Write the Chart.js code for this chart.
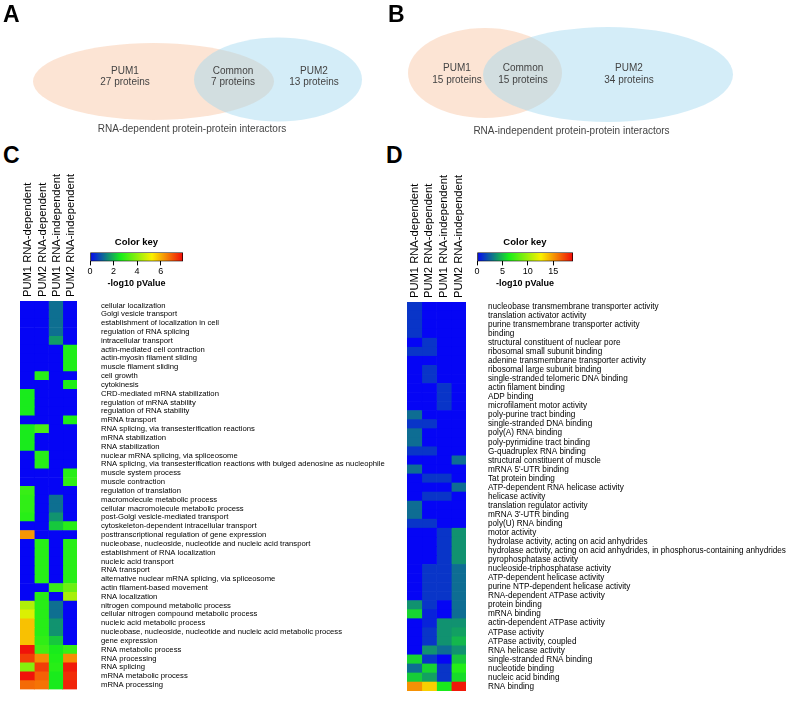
<!DOCTYPE html>
<html>
<head>
<meta charset="utf-8">
<script src="https://cdn.jsdelivr.net/npm/chart.js@4.4.1/dist/chart.umd.min.js"></script>
<style>
  body { margin: 0; background: #fff; }
  #fig { position: relative; width: 789px; height: 718px; overflow: hidden; font-family: "Liberation Sans", Arial, sans-serif; }
  #fig canvas { position: absolute; }
  .letter { position: absolute; font-weight: bold; font-size: 23px; line-height: 23px; color: #000; }
</style>
</head>
<body>
<div id="fig">
  <canvas id="venn-a" width="390" height="140" style="left:0;top:0"></canvas>
  <canvas id="venn-b" width="399" height="140" style="left:390px;top:0"></canvas>
  <canvas id="heat-c" width="395" height="548" style="left:0;top:170px"></canvas>
  <canvas id="heat-d" width="399" height="548" style="left:390px;top:170px"></canvas>
  <canvas id="key-c" width="120" height="58" style="left:80px;top:234px"></canvas>
  <canvas id="key-d" width="125" height="58" style="left:465px;top:234px"></canvas>
  <div class="letter" style="left:3px;top:3px">A</div>
  <div class="letter" style="left:388px;top:3px">B</div>
  <div class="letter" style="left:3px;top:144px">C</div>
  <div class="letter" style="left:386px;top:144px">D</div>
</div>
<script>
// ---- data ----
const venn_regions = ['PUM1', 'Common', 'PUM2'];
const venn_a_counts = [27, 7, 13];
const venn_b_counts = [15, 15, 34];
const venn_a_caption = 'RNA-dependent protein-protein interactors';
const venn_b_caption = 'RNA-independent protein-protein interactors';

const heat_columns = ['PUM1 RNA-dependent', 'PUM2 RNA-dependent', 'PUM1 RNA-independent', 'PUM2 RNA-independent'];

const c_terms = [
  'cellular localization', 'Golgi vesicle transport', 'establishment of localization in cell', 'regulation of RNA splicing',
  'intracellular transport', 'actin-mediated cell contraction', 'actin-myosin filament sliding', 'muscle filament sliding',
  'cell growth', 'cytokinesis', 'CRD-mediated mRNA stabilization', 'regulation of mRNA stability',
  'regulation of RNA stability', 'mRNA transport', 'RNA splicing, via transesterification reactions', 'mRNA stabilization',
  'RNA stabilization', 'nuclear mRNA splicing, via spliceosome',
  'RNA splicing, via transesterification reactions with bulged adenosine as nucleophile', 'muscle system process',
  'muscle contraction', 'regulation of translation', 'macromolecule metabolic process', 'cellular macromolecule metabolic process',
  'post-Golgi vesicle-mediated transport', 'cytoskeleton-dependent intracellular transport',
  'posttranscriptional regulation of gene expression', 'nucleobase, nucleoside, nucleotide and nucleic acid transport',
  'establishment of RNA localization', 'nucleic acid transport', 'RNA transport', 'alternative nuclear mRNA splicing, via spliceosome',
  'actin filament-based movement', 'RNA localization', 'nitrogen compound metabolic process', 'cellular nitrogen compound metabolic process',
  'nucleic acid metabolic process', 'nucleobase, nucleoside, nucleotide and nucleic acid metabolic process', 'gene expression',
  'RNA metabolic process', 'RNA processing', 'RNA splicing', 'mRNA metabolic process', 'mRNA processing'
];
const c_pum1_dep   = [0,0,0,0,0,0,0,0,0,0, 2.6,2.6,2.6,0,2.6,2.6,2.6,0,0,0, 0,3.0,2.9,2.9,2.8,0,6.3,0,0,0, 0,0,0,0,4.4,4.9,5.8,5.8,5.8,7.8, 7.3,3.9,7.8,6.8];
const c_pum2_dep   = [0,0,0,0,0,0,0,0,2.8,0, 0,0,0,0,3.2,0,0,2.8,2.8,0, 0,0,0,0,0,0,0,2.8,2.8,2.8, 2.8,2.8,0,2.8,2.8,2.8,2.8,2.8,2.9,3.1, 6.4,7.3,6.9,6.7];
const c_pum1_indep = [1.2,1.2,1.2,1.2,1.7,0,0,0,0,0, 0,0,0,0,0,0,0,0,0,0, 0,0,1.2,1.2,1.6,2.2,0,0,0,0, 0,0,3.0,0,1.2,1.2,1.6,1.6,2.2,2.6, 2.7,2.8,2.6,2.6];
const c_pum2_indep = [0,0,0,0,0,2.7,2.7,2.7,0,2.7, 0,0,0,2.7,0,0,0,0,0,2.8, 2.9,0,0,0,0,2.8,0,2.8,2.8,2.8, 2.8,2.8,3.6,4.3,0,0,0,0,0,3.0, 6.4,7.7,7.5,7.6];
const c_key_max = 7.9;
const c_key_step = 2;

const d_terms = [
  'nucleobase transmembrane transporter activity', 'translation activator activity', 'purine transmembrane transporter activity',
  'binding', 'structural constituent of nuclear pore', 'ribosomal small subunit binding', 'adenine transmembrane transporter activity',
  'ribosomal large subunit binding', 'single-stranded telomeric DNA binding', 'actin filament binding', 'ADP binding',
  'microfilament motor activity', 'poly-purine tract binding', 'single-stranded DNA binding', 'poly(A) RNA binding',
  'poly-pyrimidine tract binding', 'G-quadruplex RNA binding', 'structural constituent of muscle', "mRNA 5'-UTR binding",
  'Tat protein binding', 'ATP-dependent RNA helicase activity', 'helicase activity', 'translation regulator activity',
  "mRNA 3'-UTR binding", 'poly(U) RNA binding', 'motor activity', 'hydrolase activity, acting on acid anhydrides',
  'hydrolase activity, acting on acid anhydrides, in phosphorus-containing anhydrides', 'pyrophosphatase activity',
  'nucleoside-triphosphatase activity', 'ATP-dependent helicase activity', 'purine NTP-dependent helicase activity',
  'RNA-dependent ATPase activity', 'protein binding', 'mRNA binding', 'actin-dependent ATPase activity', 'ATPase activity',
  'ATPase activity, coupled', 'RNA helicase activity', 'single-stranded RNA binding', 'nucleotide binding',
  'nucleic acid binding', 'RNA binding'
];
const d_pum1_dep   = [1.3,1.3,1.3,1.3,0,1.3,0,0,0,0, 0,0,2.8,1.3,2.8,2.8,1.3,0,2.8,0, 0,0,2.8,2.8,1.3,0,0,0,0,0, 0,0,0,3.8,5.6,0,0,0,0,5.6, 2.8,5.4,15.2];
const d_pum2_dep   = [0,0,0,0,1.3,1.3,0,1.3,1.3,0, 0,0,0,1.3,0,0,1.3,0,0,1.3, 0,1.3,0,0,1.3,0,0,0,0,1.3, 1.3,1.3,1.3,1.3,0.8,0.8,1.3,1.3,3.8,1.3, 5.6,4.2,13.5];
const d_pum1_indep = [0,0,0,0,0,0,0,0,0,1.3, 1.3,1.3,0,0,0,0,0,0,0,1.3, 0,1.3,0,0,0,1.3,1.3,1.3,1.3,1.3, 1.3,1.3,1.3,0,0,3.8,3.8,3.8,2.8,0, 1.3,1.3,6.2];
const d_pum2_indep = [0,0,0,0,0,0,0,0,0,0, 0,0,0,0,0,0,0,2.8,0,0, 2.8,0,0,0,0,3.8,3.8,3.8,3.8,2.8, 2.8,2.8,2.8,2.8,2.8,3.8,4.2,4.8,3.8,5.2, 6.6,5.8,18.5];
const d_key_max = 18.9;
const d_key_step = 5;

// ---- colour scale (blue -> green -> yellow -> red) ----
const STOPS = [[0, [5, 5, 245]], [1/3, [25, 238, 25]], [2/3, [250, 240, 0]], [1, [240, 10, 10]]];
function heat_color(v, max) {
  let t = Math.max(0, Math.min(1, v / max));
  for (let i = 1; i < STOPS.length; i++) {
    if (t <= STOPS[i][0]) {
      let [t0, a] = STOPS[i-1], [t1, b] = STOPS[i];
      let f = (t - t0) / (t1 - t0);
      return `rgb(${a.map((c, k) => Math.round(c + (b[k] - c) * f)).join(',')})`;
    }
  }
  return `rgb(${STOPS[STOPS.length-1][1].join(',')})`;
}

Chart.defaults.font.family = '"Liberation Sans", Arial, sans-serif';
Chart.defaults.color = '#000';

// ---- venn diagrams ----
const venn_plugin = {
  id: 'venn',
  afterDatasetsDraw(chart, args, opts) {
    const {ctx, scales: {x, y}} = chart;
    opts.sets.forEach(s => {
      let cx = x.getPixelForValue(s.cx), cy = y.getPixelForValue(s.cy);
      let rx = Math.abs(x.getPixelForValue(s.cx + s.rx) - cx);
      let ry = Math.abs(y.getPixelForValue(s.cy + s.ry) - cy);
      ctx.save();
      ctx.beginPath();
      ctx.ellipse(cx, cy, rx, ry, 0, 0, 2 * Math.PI);
      ctx.fillStyle = s.fill;
      ctx.fill();
      ctx.restore();
    });
    ctx.save();
    ctx.fillStyle = '#444';
    ctx.font = '10px "Liberation Sans", Arial, sans-serif';
    ctx.textAlign = 'center';
    ctx.textBaseline = 'middle';
    opts.counts.forEach((n, i) => {
      let px = x.getPixelForValue(opts.label_x[i]);
      ctx.fillText(venn_regions[i], px, y.getPixelForValue(opts.label_y));
      ctx.fillText(n + ' proteins', px, y.getPixelForValue(opts.label_y + 11.5));
    });
    ctx.fillText(opts.caption, x.getPixelForValue(opts.caption_x), y.getPixelForValue(opts.caption_y));
    ctx.restore();
  }
};

function draw_venn(id, w, h, venn_opts) {
  return new Chart(document.getElementById(id), {
    type: 'scatter',
    data: { datasets: [] },
    plugins: [venn_plugin],
    options: {
      responsive: false, animation: false,
      layout: { padding: 0 },
      plugins: { legend: { display: false }, tooltip: { enabled: false }, venn: venn_opts },
      scales: {
        x: { type: 'linear', min: 0, max: w, display: false },
        y: { type: 'linear', min: 0, max: h, reverse: true, display: false }
      }
    }
  });
}

const PUM1_FILL = 'rgba(248,196,160,0.45)';
const PUM2_FILL = 'rgba(160,215,240,0.45)';

draw_venn('venn-a', 390, 140, {
  sets: [
    { cx: 153.5, cy: 81.5, rx: 120.5, ry: 38.5, fill: PUM1_FILL },
    { cx: 278, cy: 79.5, rx: 84, ry: 42, fill: PUM2_FILL }
  ],
  counts: venn_a_counts, label_x: [125, 233, 314], label_y: 71,
  caption: venn_a_caption, caption_x: 192, caption_y: 129.5
});
draw_venn('venn-b', 399, 140, {
  sets: [
    { cx: 95, cy: 73, rx: 77, ry: 45, fill: PUM1_FILL },
    { cx: 218, cy: 74.5, rx: 125, ry: 47.5, fill: PUM2_FILL }
  ],
  counts: venn_b_counts, label_x: [67, 133, 239], label_y: 68.5,
  caption: venn_b_caption, caption_x: 181.5, caption_y: 131
});

// ---- heatmaps ----
function draw_heatmap(id, terms, columns, max, geo) {
  let datasets = columns.map((vals, j) => ({
    data: vals.map(() => [j, j + 1]),
    backgroundColor: vals.map(v => heat_color(v, max)),
    grouped: false,
    barPercentage: 1,
    categoryPercentage: 1,
    borderWidth: 0
  }));
  return new Chart(document.getElementById(id), {
    type: 'bar',
    data: { labels: terms, datasets: datasets },
    options: {
      indexAxis: 'y', responsive: false, animation: false,
      layout: { padding: geo.padding },
      plugins: { legend: { display: false }, tooltip: { enabled: false } },
      scales: {
        x: {
          type: 'linear', position: 'top', min: 0, max: heat_columns.length,
          grid: { display: false, drawTicks: false }, border: { display: false },
          afterBuildTicks: s => { s.ticks = heat_columns.map((c, i) => ({ value: i + 0.5 })); },
          afterFit: s => { s.height = geo.top; },
          ticks: {
            autoSkip: false, minRotation: 90, maxRotation: 90, padding: 4,
            labelOffset: geo.col_offset,
            font: { size: geo.col_font }, color: '#000',
            callback: (v, i) => heat_columns[i]
          }
        },
        y: {
          position: 'right',
          grid: { display: false, drawTicks: false }, border: { display: false },
          afterFit: s => { s.width = geo.axis_width; },
          ticks: { autoSkip: false, padding: geo.label_gap, font: { size: geo.row_font }, color: '#000' }
        }
      }
    }
  });
}

draw_heatmap('heat-c', c_terms, [c_pum1_dep, c_pum2_dep, c_pum1_indep, c_pum2_indep], c_key_max, {
  padding: { left: 20, right: 0, top: 0, bottom: 6 }, top: 131, axis_width: 318,
  label_gap: 24, row_font: 7.7, col_font: 11.2, col_offset: 14.5
});
draw_heatmap('heat-d', d_terms, [d_pum1_dep, d_pum2_dep, d_pum1_indep, d_pum2_indep], d_key_max, {
  padding: { left: 17, right: 0, top: 0, bottom: 6 }, top: 132, axis_width: 323,
  label_gap: 22, row_font: 8.2, col_font: 11.2, col_offset: 13.5
});

// ---- colour keys ----
function draw_key(id, max, step, pad) {
  return new Chart(document.getElementById(id), {
    type: 'bar',
    data: {
      labels: [''],
      datasets: [{
        data: [[0, max]],
        backgroundColor: c => {
          let chart = c.chart;
          if (!chart.chartArea) return 'blue';
          let xs = chart.scales.x;
          let g = chart.ctx.createLinearGradient(xs.getPixelForValue(0), 0, xs.getPixelForValue(max), 0);
          STOPS.forEach(([t, rgb]) => g.addColorStop(t, `rgb(${rgb.join(',')})`));
          return g;
        },
        borderColor: '#000', borderWidth: 1, borderSkipped: false,
        barPercentage: 1, categoryPercentage: 1
      }]
    },
    options: {
      indexAxis: 'y', responsive: false, animation: false,
      layout: { padding: { left: pad.left, right: pad.right, top: 0, bottom: 0 } },
      plugins: {
        legend: { display: false }, tooltip: { enabled: false },
        title: { display: true, text: 'Color key', font: { size: 9.5, weight: 'bold' }, color: '#000', padding: { top: 3, bottom: 4 } },
        subtitle: { display: true, position: 'bottom', text: '-log10 pValue', font: { size: 9, weight: 'bold' }, color: '#000', padding: { top: 0, bottom: 3 } }
      },
      scales: {
        x: {
          type: 'linear', min: 0, max: max,
          grid: { drawOnChartArea: false, color: '#000', tickLength: 4 }, border: { display: false },
          ticks: { stepSize: step, includeBounds: false, padding: 1, font: { size: 9 }, color: '#000' },
          afterFit: s => { s.height = 16.8; }
        },
        y: { display: false }
      }
    }
  });
}

draw_key('key-c', c_key_max, c_key_step, { left: 10, right: 17 });
draw_key('key-d', d_key_max, d_key_step, { left: 12, right: 17 });
</script>
</body>
</html>
